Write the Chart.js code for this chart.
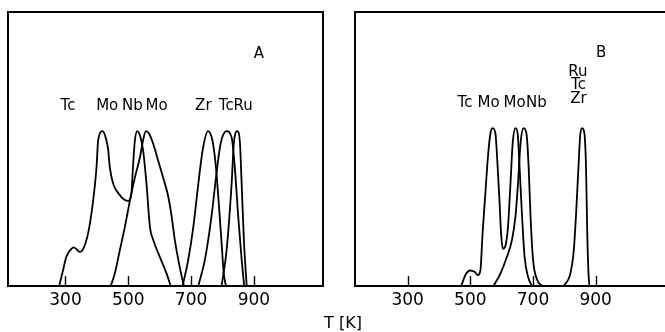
<!DOCTYPE html>
<html>
<head>
<meta charset="utf-8">
<script src="https://cdn.jsdelivr.net/npm/chart.js@4/dist/chart.umd.min.js"></script>
<style>
html, body { margin:0; padding:0; background:#fff; overflow:hidden; width:665px; height:332px; }
canvas { position:absolute; top:0; }
#cA { left:0; }
#cB { left:340px; }
#xt { position:absolute; left:343px; top:322px; transform:translate(-50%,-50%); font:16px "DejaVu Sans", sans-serif; color:#000; white-space:nowrap; }
</style>
</head>
<body>
<canvas id="cA" width="330" height="332"></canvas>
<canvas id="cB" width="340" height="332"></canvas>
<div id="xt">T [K]</div>
<script>
// ---- tick labels ----
const tickValues = [300, 500, 700, 900];

// ---- Panel A series (temperature K, relative intensity) ----
const aTcMoNbK = [280,292,303,319,326,346,354,372,388,399,404,418,428,436,441,452,468,489,500,510,515,521,529,539,547,558,569,579,600,622,635];
const aTcMoNbH = [0,0.10,0.19,0.24,0.25,0.22,0.23,0.34,0.55,0.77,0.94,1.0,0.96,0.88,0.77,0.66,0.60,0.555,0.55,0.60,0.77,0.94,1.0,0.96,0.88,0.66,0.38,0.30,0.19,0.08,0];
const aMoK = [444,457,473,489,505,521,537,547,556,566,579,595,611,627,638,648,664,677];
const aMoH = [0,0.08,0.23,0.38,0.55,0.70,0.83,0.94,1.0,0.985,0.92,0.81,0.70,0.58,0.45,0.30,0.12,0];
const aZrK = [673,691,707,723,737,754,768,779,789,797,804,811];
const aZrH = [0,0.17,0.38,0.66,0.88,1.0,0.94,0.77,0.51,0.28,0.08,0];
const aTcK = [723,744,765,781,794,813,829,839,850,861,869];
const aTcH = [0,0.17,0.45,0.73,0.92,1.0,0.96,0.77,0.45,0.17,0];
const aRuK = [797,813,829,836,847,855,861,868,877];
const aRuH = [0,0.23,0.66,0.92,1.0,0.94,0.66,0.30,0];

// ---- Panel B series ----
const bTcMoK = [471,484,500,514,524,532,539,548,556,564,571,580,586,593,598,604,612,620,628,635,644,651,657,665,673,684,697];
const bTcMoH = [0,0.07,0.10,0.09,0.07,0.10,0.34,0.60,0.83,0.985,1.02,0.985,0.81,0.55,0.34,0.24,0.26,0.38,0.66,0.92,1.02,0.985,0.77,0.45,0.19,0.06,0];
const bNbK = [574,596,617,633,644,652,660,670,679,686,692,700,713,729];
const bNbH = [0,0.08,0.19,0.30,0.45,0.66,0.92,1.02,0.985,0.77,0.45,0.17,0.04,0];
const bZrTcRuK = [798,819,830,838,846,851,857,864,869,873,877,880];
const bZrTcRuH = [0,0.08,0.23,0.49,0.81,0.985,1.02,0.985,0.77,0.34,0.08,0];

// ---- peak labels ----
const aLabelText = ['Tc','Mo','Nb','Mo','Zr','Tc','Ru','A'];
const aLabelK    = [308, 433, 513, 590, 739, 812, 866, 916];
const aLabelH    = [1.165,1.165,1.165,1.165,1.165,1.165,1.165,1.50];
const bLabelText = ['Tc','Mo','Mo','Nb','Ru','Tc','Zr','B'];
const bLabelK    = [483, 558, 641, 711, 843, 845, 845, 917];
const bLabelH    = [1.18,1.18,1.18,1.18,1.383,1.297,1.206,1.506];

const FONT = '"DejaVu Sans", sans-serif';

function pts(ks, hs) { return ks.map((k, i) => ({ x: k, y: hs[i] })); }
function ds(ks, hs) {
  return { data: pts(ks, hs), showLine: true, borderColor: '#000', borderWidth: 1.8,
           pointRadius: 0, cubicInterpolationMode: 'monotone', fill: false };
}

const framePlugin = {
  id: 'frameTicks',
  afterDraw(chart) {
    const { ctx, chartArea: a } = chart;
    const xs = chart.scales.x;
    ctx.save();
    ctx.strokeStyle = '#000';
    ctx.lineWidth = 2;
    ctx.strokeRect(a.left, a.top, a.right - a.left, a.bottom - a.top);
    ctx.lineWidth = 1.4;
    ctx.beginPath();
    xs.ticks.forEach(t => {
      const px = Math.round(xs.getPixelForValue(t.value)) + 0.5;
      ctx.moveTo(px, a.bottom);
      ctx.lineTo(px, a.bottom - 10);
    });
    ctx.stroke();
    const o = chart.options.plugins.peakLabels;
    ctx.fillStyle = '#000';
    ctx.font = '15px ' + FONT;
    ctx.textAlign = 'center';
    ctx.textBaseline = 'middle';
    o.text.forEach((s, i) => {
      ctx.fillText(s, xs.getPixelForValue(o.k[i]), chart.scales.y.getPixelForValue(o.h[i]));
    });
    ctx.restore();
  }
};

function makeChart(id, datasets, xmin, xmax, pad, labels) {
  return new Chart(document.getElementById(id), {
    type: 'scatter',
    data: { datasets },
    options: {
      responsive: false, animation: false,
      layout: { padding: pad },
      plugins: { legend: { display: false }, tooltip: { enabled: false },
                 peakLabels: labels },
      scales: {
        x: {
          type: 'linear', min: xmin, max: xmax,
          grid: { display: false, drawTicks: false },
          border: { display: false },
          afterBuildTicks: s => { s.ticks = tickValues.map(v => ({ value: v })); },
          afterFit: s => { s.height = 46; },
          ticks: { color: '#000', font: { family: FONT, size: 17 }, padding: 4,
                   maxRotation: 0, autoSkip: false }
        },
        y: { display: false, min: 0, max: 1.77 }
      }
    },
    plugins: [framePlugin]
  });
}

makeChart('cA',
  [ds(aTcMoNbK, aTcMoNbH), ds(aMoK, aMoH), ds(aZrK, aZrH), ds(aTcK, aTcH), ds(aRuK, aRuH)],
  117, 1120, { left: 8, top: 12, right: 7, bottom: 0 },
  { text: aLabelText, k: aLabelK, h: aLabelH });

makeChart('cB',
  [ds(bTcMoK, bTcMoH), ds(bNbK, bNbH), ds(bZrTcRuK, bZrTcRuH)],
  132, 1137, { left: 15, top: 12, right: 10, bottom: 0 },
  { text: bLabelText, k: bLabelK, h: bLabelH });
</script>
</body>
</html>
